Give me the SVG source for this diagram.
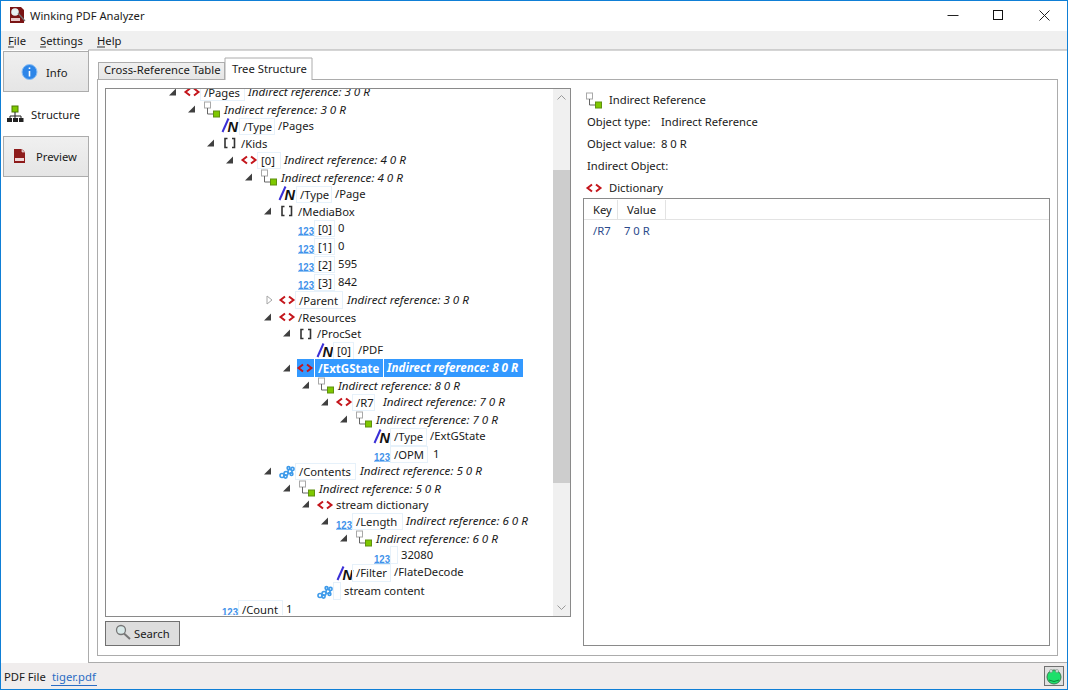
<svg xmlns="http://www.w3.org/2000/svg" xmlns:xlink="http://www.w3.org/1999/xlink" width="1068" height="690" viewBox="0 0 1068 690">
<style>
text{font-family:"Noto Sans","Open Sans","Liberation Sans",sans-serif;font-size:11.25px;fill:#1a1a1a}
.i{font-style:italic;font-size:11.65px}
.kb{fill:none;stroke:#e6f1fa;stroke-width:1}
.tri{fill:#404040}
.btn{fill:url(#bg);stroke:#acacac}
.sel{fill:#3399ff}
.w{fill:#fff;font-weight:700}
.ln{fill:none;stroke:#acacac}
</style>
<defs>
<linearGradient id="bg" x1="0" y1="0" x2="0" y2="1"><stop offset="0" stop-color="#f0f0f0"/><stop offset="1" stop-color="#e5e5e5"/></linearGradient>
<clipPath id="tc"><rect x="107" y="89" width="446" height="526"/></clipPath>
<g id="t"><path class="tri" d="M-4 3.500L3 3.500L3 -3.500Z"/></g>
<g id="to"><path d="M-3 -4L2 0L-3 4Z" fill="#fff" stroke="#a6a6a6"/></g>
<g id="d"><path d="M6 -3.500L1.500 0L6 3.500M10 -3.500L14.500 0L10 3.500" fill="none" stroke="#c4161c" stroke-width="2"/></g>
<g id="a"><path d="M3.500 -4.500H1V4.500H3.500M8 -4.500H10.500V4.500H8" fill="none" stroke="#333" stroke-width="1.600"/></g>
<g id="r"><rect x="1.500" y="-7" width="6" height="6" fill="#fff" stroke="#a8a8a8"/><path d="M4.500 -1V5H10" fill="none" stroke="#666"/><rect x="10.500" y="2" width="6" height="6" fill="#7ec800" stroke="#5f8f10"/></g>
<g id="n"><path d="M.5 6L6.500 -7.500" fill="none" stroke="#3a2fd6" stroke-width="2"/><text x="5.500" y="5.500" style="font-family:'Liberation Sans',sans-serif;font-size:14.500px;font-weight:700;font-style:italic;fill:#111">N</text></g>
<g id="h"><text x="0" y="6.500" textLength="16" lengthAdjust="spacingAndGlyphs" style="font-family:'Liberation Sans',sans-serif;font-size:11.500px;font-weight:700;fill:#3f92ea">123</text><path d="M0 7.500H16" stroke="#8fc2f5" stroke-width="1"/></g>
<g id="s" fill="none" stroke="#3f9bea" stroke-width="1.600"><circle cx="3" cy="3.500" r="2"/><circle cx="7" cy="1.500" r="2"/><circle cx="6.500" cy="4.500" r="1.600"/><circle cx="11" cy="-.5" r="2"/><circle cx="13.500" cy="-3" r="1.600"/><circle cx="9.500" cy="-4" r="1.400"/><circle cx="12.500" cy="2" r="1.400"/></g>
</defs>

<rect id="window" x=".5" y=".5" width="1067" height="689" fill="#fff" stroke="#0f7fd6"/>
<g id="title-bar">
<path d="M10 7H21L24 10V23H10Z" fill="#7a1414"/><circle cx="15" cy="12" r="3.800" fill="#e8f2f2"/><path d="M18 13L25 21" stroke="#777" stroke-width="1.200"/><rect x="11" y="18" width="9" height="3" fill="#e8c8c8"/>
<text x="30" y="20" style="font-size:11.200px">Winking PDF Analyzer</text>
<path d="M947.500 15.500H958.500" stroke="#222"/><rect x="993.500" y="10.500" width="9" height="9" fill="none" stroke="#111"/><path d="M1039.500 10.500L1049.500 20.500M1049.500 10.500L1039.500 20.500" stroke="#222"/>
</g>
<g id="menu">
<rect x="1" y="31" width="1066" height="19" fill="#f0f0f0"/>
<text x="8" y="45">File</text><text x="40" y="45">Settings</text><text x="97" y="45">Help</text>
<path d="M8 47H14M40 47H46M97 47H105" stroke="#333"/>
<path d="M88.500 50H1067" stroke="#acacac"/>
</g>
<path class="ln" d="M88.500 50V662.500"/>
<g id="side-info"><rect class="btn" x="3.500" y="51.500" width="85" height="40"/><circle cx="29.500" cy="72" r="7.500" fill="#2e86e8" stroke="#8cc0f5"/><path d="M29.500 67.500V69M29.500 71V76.500" stroke="#fff" stroke-width="1.600"/><text x="46" y="77">Info</text></g>
<g id="side-structure"><rect x="2" y="92" width="87" height="44" fill="#fff"/><rect x="12" y="106" width="6" height="6" fill="#7ec800" stroke="#4d7a00"/><path d="M15 112V116M10 116H21V118M10 116V118M15 116V118" fill="none" stroke="#222"/><rect x="7" y="118" width="5" height="4" fill="#222"/><rect x="13" y="118" width="5" height="4" fill="#222"/><rect x="19" y="118" width="4.500" height="4" fill="#222"/><text x="31" y="119">Structure</text></g>
<g id="side-preview"><rect class="btn" x="3.500" y="136.500" width="85" height="40"/><path d="M14 149H22L25 152V163H14Z" fill="#8e1b1b"/><path d="M22 149V152H25" fill="#c99" stroke="#fff" stroke-width=".6"/><rect x="15" y="158" width="9" height="3" fill="#f0d8d8"/><text x="36" y="161">Preview</text></g>

<g id="tabs">
<rect x="97.500" y="79.500" width="960" height="576" fill="#fff" stroke="#acacac"/>
<rect x="98.500" y="62.500" width="126" height="17" fill="url(#bg)" stroke="#acacac"/>
<text x="104" y="74">Cross-Reference Table</text>
<path d="M225 80V58H312V80" fill="#fff" stroke="#acacac"/>
<text x="232" y="73">Tree Structure</text>
</g>

<g id="tree-frame">
<rect x="105.500" y="88.500" width="465" height="528" fill="#fff" stroke="#8a8a8a"/>
<rect x="553" y="89" width="17" height="527" fill="#f0f0f0"/>
<rect x="553" y="170" width="17" height="313" fill="#cdcdcd"/>
<path d="M557.500 99.500L561.500 95.500L565.500 99.500M557.500 605.500L561.500 609.500L565.500 605.500" fill="none" stroke="#9a9a9a"/>
</g>

<g clip-path="url(#tc)">
<g id="row-pages"><use href="#t" x="173" y="92"/><use href="#d" x="184" y="92"/><rect class="kb" x="200.500" y="84.500" width="44" height="16"/><text x="204" y="97">/Pages</text><text class="i" x="248" y="96">Indirect reference: 3 0 R</text></g>
<g id="row-ref3"><use href="#t" x="192" y="109"/><use href="#r" x="203" y="109"/><text class="i" x="224" y="114">Indirect reference: 3 0 R</text></g>
<g id="row-type-pages"><use href="#n" x="222" y="126"/><rect class="kb" x="239.500" y="118.500" width="35" height="16"/><text x="243" y="131">/Type</text><text x="278" y="130">/Pages</text></g>
<g id="row-kids"><use href="#t" x="211" y="143"/><use href="#a" x="224" y="143"/><text x="241" y="148">/Kids</text></g>
<g id="row-kid0"><use href="#t" x="230" y="160"/><use href="#d" x="241" y="160"/><rect class="kb" x="257.500" y="152.500" width="23" height="16"/><text x="261" y="165">[0]</text><text class="i" x="284" y="164">Indirect reference: 4 0 R</text></g>
<g id="row-ref4"><use href="#t" x="249" y="177"/><use href="#r" x="260" y="177"/><text class="i" x="281" y="182">Indirect reference: 4 0 R</text></g>
<g id="row-type-page"><use href="#n" x="279" y="194"/><rect class="kb" x="296.500" y="186.500" width="35" height="16"/><text x="300" y="199">/Type</text><text x="335" y="198">/Page</text></g>
<g id="row-mediabox"><use href="#t" x="268" y="211"/><use href="#a" x="281" y="211"/><text x="298" y="216">/MediaBox</text></g>
<g id="row-mb0"><use href="#h" x="298" y="228"/><rect class="kb" x="314.500" y="220.500" width="20" height="16"/><text x="318" y="233">[0]</text><text x="338" y="232">0</text></g>
<g id="row-mb1"><use href="#h" x="298" y="246"/><rect class="kb" x="314.500" y="238.500" width="20" height="16"/><text x="318" y="251">[1]</text><text x="338" y="250">0</text></g>
<g id="row-mb2"><use href="#h" x="298" y="264"/><rect class="kb" x="314.500" y="256.500" width="20" height="16"/><text x="318" y="269">[2]</text><text x="338" y="268">595</text></g>
<g id="row-mb3"><use href="#h" x="298" y="282"/><rect class="kb" x="314.500" y="274.500" width="20" height="16"/><text x="318" y="287">[3]</text><text x="338" y="286">842</text></g>
<g id="row-parent"><use href="#to" x="270" y="300"/><use href="#d" x="279" y="300"/><rect class="kb" x="295.500" y="291.500" width="47" height="17"/><text x="299" y="305">/Parent</text><text class="i" x="347" y="304">Indirect reference: 3 0 R</text></g>
<g id="row-resources"><use href="#t" x="268" y="317"/><use href="#d" x="279" y="317"/><text x="298" y="322">/Resources</text></g>
<g id="row-procset"><use href="#t" x="287" y="333"/><use href="#a" x="300" y="334"/><text x="317" y="338">/ProcSet</text></g>
<g id="row-pdf"><use href="#n" x="317" y="351"/><rect class="kb" x="333.500" y="342.500" width="20" height="17"/><text x="337" y="355">[0]</text><text x="358" y="354">/PDF</text></g>
<g id="row-extgstate"><use href="#t" x="287" y="368"/><rect class="sel" x="297" y="359" width="17" height="18"/><rect class="sel" x="315" y="359" width="68" height="18"/><rect class="sel" x="384" y="359" width="139" height="18"/><use href="#d" x="297" y="368"/><text class="w" x="318" y="373" style="font-size:11.500px">/ExtGState</text><text class="w i" x="387" y="372">Indirect reference: 8 0 R</text></g>
<g id="row-ref8"><use href="#t" x="306" y="385"/><use href="#r" x="317" y="385"/><text class="i" x="338" y="390">Indirect reference: 8 0 R</text></g>
<g id="row-r7"><use href="#t" x="325" y="402"/><use href="#d" x="336" y="402"/><rect class="kb" x="352.500" y="394.500" width="22" height="16"/><text x="356" y="407">/R7</text><text class="i" x="383" y="406">Indirect reference: 7 0 R</text></g>
<g id="row-ref7"><use href="#t" x="344" y="419"/><use href="#r" x="355" y="419"/><text class="i" x="376" y="424">Indirect reference: 7 0 R</text></g>
<g id="row-type-ext"><use href="#n" x="374" y="437"/><rect class="kb" x="390.500" y="428.500" width="36" height="17"/><text x="394" y="441">/Type</text><text x="430" y="440">/ExtGState</text></g>
<g id="row-opm"><use href="#h" x="374" y="454"/><rect class="kb" x="390.500" y="446.500" width="37" height="16"/><text x="394" y="459">/OPM</text><text x="433" y="458">1</text></g>
<g id="row-contents"><use href="#t" x="268" y="471"/><use href="#s" x="279" y="472"/><rect class="kb" x="295.500" y="463.500" width="60" height="16"/><text x="299" y="476">/Contents</text><text class="i" x="360" y="475">Indirect reference: 5 0 R</text></g>
<g id="row-ref5"><use href="#t" x="287" y="488"/><use href="#r" x="298" y="488"/><text class="i" x="319" y="493">Indirect reference: 5 0 R</text></g>
<g id="row-streamdict"><use href="#t" x="306" y="504"/><use href="#d" x="317" y="505"/><text x="336" y="509">stream dictionary</text></g>
<g id="row-length"><use href="#t" x="325" y="521"/><use href="#h" x="336" y="522"/><rect class="kb" x="352.500" y="513.500" width="50" height="16"/><text x="356" y="526">/Length</text><text class="i" x="406" y="525">Indirect reference: 6 0 R</text></g>
<g id="row-ref6"><use href="#t" x="344" y="538"/><use href="#r" x="355" y="538"/><text class="i" x="376" y="543">Indirect reference: 6 0 R</text></g>
<g id="row-32080"><use href="#h" x="374" y="556"/><rect class="kb" x="390.500" y="546.500" width="7" height="17"/><text x="401" y="559">32080</text></g>
<g id="row-filter"><use href="#n" x="337" y="574"/><rect class="kb" x="352.500" y="564.500" width="38" height="17"/><text x="356" y="577">/Filter</text><text x="394" y="576">/FlateDecode</text></g>
<g id="row-streamcontent"><use href="#s" x="317" y="592"/><rect class="kb" x="333.500" y="582.500" width="7" height="17"/><text x="344" y="595">stream content</text></g>
<g id="row-count"><use href="#h" x="222" y="609"/><rect class="kb" x="238.500" y="600.500" width="44" height="16"/><text x="242" y="614">/Count</text><text x="286" y="613">1</text></g>
</g>

<g id="search"><rect x="105.500" y="621.500" width="74" height="24" fill="#dddddd" stroke="#707070"/><circle cx="121" cy="630" r="4.500" fill="#d8e8e8" stroke="#777" stroke-width="1.300"/><path d="M124 633.500L130 639" stroke="#777" stroke-width="2"/><text x="134" y="638">Search</text></g>

<g id="details">
<use href="#r" x="585" y="100"/><text x="609" y="104">Indirect Reference</text>
<text x="587" y="126">Object type:</text><text x="661" y="126">Indirect Reference</text>
<text x="587" y="148">Object value:</text><text x="661" y="148">8 0 R</text>
<text x="587" y="170">Indirect Object:</text>
<use href="#d" x="586" y="188"/><text x="609" y="192">Dictionary</text>
</g>
<g id="table">
<rect x="583.500" y="198.500" width="466" height="447" fill="#fff" stroke="#8a8a8a"/>
<path d="M584 219.500H1049M617.500 200V219M665.500 200V219" stroke="#e3e3e3"/>
<text x="593" y="214">Key</text><text x="627" y="214">Value</text>
<text x="593" y="235" style="fill:#2b4a8c">/R7</text><text x="624" y="235" style="fill:#2b4a8c">7 0 R</text>
</g>

<g id="status">
<rect x="1" y="663" width="1066" height="26" fill="#f0eded"/>
<path d="M88 662.500H1067" stroke="#acacac"/>
<text x="4" y="681">PDF File</text><text x="52" y="681" style="fill:#2b6cc4">tiger.pdf</text><path d="M51 685.500H97" stroke="#2b6cc4"/>
<rect x="1044.500" y="666.500" width="19" height="19" fill="#e0e0e0" stroke="#707070"/>
<circle cx="1054" cy="677" r="7" fill="#1ee06a" stroke="#3a7a50"/>
<circle cx="1051" cy="671" r="1.500" fill="#cfeedd" stroke="#777" stroke-width=".5"/><circle cx="1057" cy="671" r="1.500" fill="#cfeedd" stroke="#777" stroke-width=".5"/>
<path d="M1049 680Q1054 683 1059 680" fill="none" stroke="#0a8a3a"/>
</g>
</svg>
